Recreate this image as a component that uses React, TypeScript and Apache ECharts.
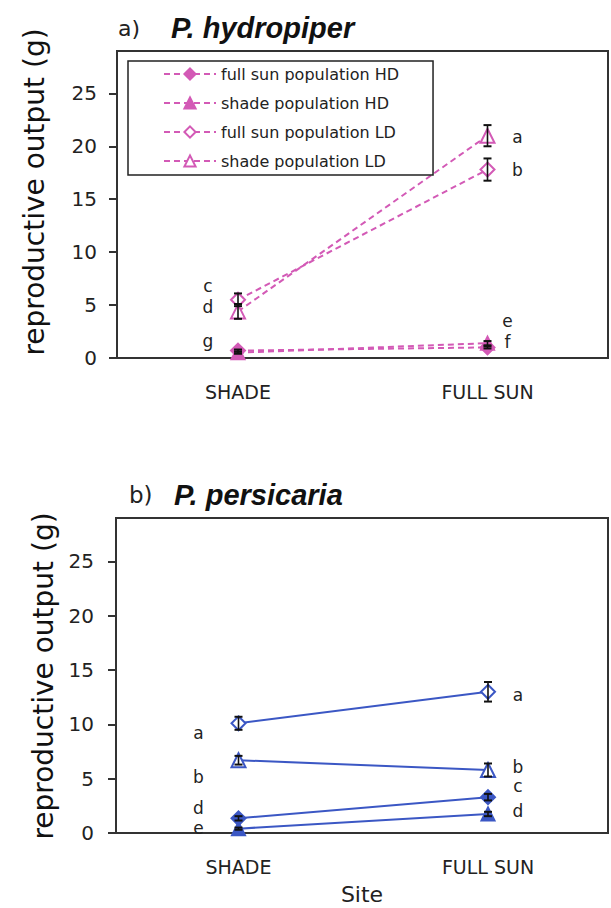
import React, { useEffect, useRef } from "react";
import * as echarts from "echarts";

// ---------- data ----------
const sites = ["SHADE", "FULL SUN"];
const seriesNames = [
  "full sun population HD",
  "shade population HD",
  "full sun population LD",
  "shade population LD",
];
const yTicks = [0, 5, 10, 15, 20, 25];

// a) P. hydropiper  — values at [SHADE site, FULL SUN site]
const hydroFullSunHD = [0.7, 1.0];
const hydroShadeHD = [0.5, 1.4];
const hydroFullSunLD = [5.5, 17.8];
const hydroShadeLD = [4.4, 21.0];
const hydroErrFullSunHD = [0.1, 0.1];
const hydroErrShadeHD = [0.1, 0.2];
const hydroErrFullSunLD = [0.6, 1.05];
const hydroErrShadeLD = [0.7, 1.0];
const hydroLetFullSunHD = ["g", "f"];
const hydroLetShadeHD = ["", "e"];
const hydroLetFullSunLD = ["c", "b"];
const hydroLetShadeLD = ["d", "a"];

// b) P. persicaria
const persFullSunHD = [1.35, 3.3];
const persShadeHD = [0.4, 1.75];
const persFullSunLD = [10.1, 13.0];
const persShadeLD = [6.7, 5.8];
const persErrFullSunHD = [0.2, 0.3];
const persErrShadeHD = [0.1, 0.2];
const persErrFullSunLD = [0.6, 0.9];
const persErrShadeLD = [0.4, 0.6];
const persLetFullSunHD = ["d", "c"];
const persLetShadeHD = ["e", "d"];
const persLetFullSunLD = ["a", "a"];
const persLetShadeLD = ["b", "b"];

// ---------- layout / style ----------
const FONT = "DejaVu Sans";
const PINK = "#d35ab6";
const BLUE = "#3b57c4";
const INK = "#222";
const FRAME = "#333";

// letter label offsets (px) for each series at [SHADE, FULL SUN]
const hydroLetOff = [
  [[-30, -10], [20, -5]],
  [[-30, 0], [20, -22]],
  [[-30, -14], [30, 0]],
  [[-30, -4], [30, 1]],
];
const persLetOff = [
  [[-40, -10], [30, -11]],
  [[-40, -1], [30, -3]],
  [[-40, 10], [30, 3]],
  [[-40, 17], [30, -3]],
];

const symbols = ["diamond", "triangle", "emptyDiamond", "emptyTriangle"];
const symbolSizes = [14, 13, 14, 14];

function buildLineSeries(
  names: string[],
  values: number[][],
  letters: string[][],
  offsets: number[][][],
  color: string,
  dashed: boolean,
  idx: number
) {
  return values.map((vals, s) => ({
    name: names[s],
    type: "line",
    xAxisIndex: idx,
    yAxisIndex: idx,
    symbol: symbols[s],
    symbolSize: symbolSizes[s],
    z: 3,
    lineStyle: { color, width: 2, type: dashed ? [6, 4] : "solid" },
    itemStyle: { color, borderColor: color, borderWidth: 2 },
    data: vals.map((v, i) => ({
      value: [i, v],
      label: {
        show: letters[s][i] !== "",
        formatter: letters[s][i],
        position: "inside",
        align: "center",
        verticalAlign: "middle",
        offset: offsets[s][i],
        fontFamily: FONT,
        fontSize: 17,
        lineHeight: 15,
        color: INK,
      },
    })),
  }));
}

function buildErrSeries(values: number[][], errs: number[][], idx: number) {
  const data: number[][] = [];
  values.forEach((vals, s) =>
    vals.forEach((v, i) => data.push([i, v, errs[s][i]]))
  );
  return {
    type: "custom",
    xAxisIndex: idx,
    yAxisIndex: idx,
    z: 6,
    silent: true,
    encode: { x: 0, y: 1 },
    data,
    renderItem: (_p: any, api: any) => {
      const x = api.value(0);
      const y = api.value(1);
      const e = api.value(2);
      const t = api.coord([x, y + e]);
      const b = api.coord([x, y - e]);
      const w = 4;
      const st = { stroke: "#111", lineWidth: 1.6 };
      return {
        type: "group",
        children: [
          { type: "line", shape: { x1: t[0], y1: t[1], x2: b[0], y2: b[1] }, style: st },
          { type: "line", shape: { x1: t[0] - w, y1: t[1], x2: t[0] + w, y2: t[1] }, style: { stroke: "#111", lineWidth: 2 } },
          { type: "line", shape: { x1: b[0] - w, y1: b[1], x2: b[0] + w, y2: b[1] }, style: { stroke: "#111", lineWidth: 2 } },
        ],
      };
    },
  };
}

function xAxisCfg(idx: number, min: number, max: number, extra: any = {}) {
  return {
    gridIndex: idx,
    type: "value",
    min,
    max,
    splitLine: { show: false },
    axisTick: { show: false },
    axisLine: { show: true, onZero: false, lineStyle: { color: FRAME, width: 2 } },
    axisLabel: {
      customValues: [0, 1],
      formatter: (v: number) => sites[Math.round(v)] ?? "",
      fontFamily: FONT,
      fontSize: 19,
      color: INK,
      margin: 24,
    },
    ...extra,
  };
}

function yAxisCfg(idx: number, margin: number) {
  return {
    gridIndex: idx,
    type: "value",
    min: 0,
    max: 29,
    splitLine: { show: false },
    axisLine: { show: true, onZero: false, lineStyle: { color: FRAME, width: 2 } },
    axisTick: {
      show: true,
      inside: false,
      length: 8,
      customValues: yTicks,
      lineStyle: { color: FRAME, width: 2 },
    },
    axisLabel: {
      customValues: yTicks,
      fontFamily: FONT,
      fontSize: 20,
      color: INK,
      margin,
    },
  };
}

export default function App() {
  const ref = useRef<HTMLDivElement>(null);
  useEffect(() => {
    if (!ref.current) return;
    const chart = echarts.init(ref.current, undefined, { renderer: "svg" });
    const topNames = seriesNames;
    const botNames = seriesNames.map((n) => "P. persicaria " + n);
    const option: any = {
      animation: false,
      backgroundColor: "#fff",
      grid: [
        { left: 117, top: 51, width: 491, height: 307, show: true, borderColor: FRAME, borderWidth: 2 },
        { left: 116, top: 518, width: 492, height: 315, show: true, borderColor: FRAME, borderWidth: 2 },
      ],
      xAxis: [
        xAxisCfg(0, -0.485, 1.483),
        xAxisCfg(1, -0.491, 1.481, {
          name: "Site",
          nameLocation: "middle",
          nameGap: 50,
          nameTextStyle: { fontFamily: FONT, fontSize: 22, color: INK },
        }),
      ],
      yAxis: [yAxisCfg(0, 20), yAxisCfg(1, 22)],
      legend: {
        data: topNames,
        orient: "vertical",
        left: 128,
        top: 61,
        itemWidth: 52,
        itemHeight: 14,
        itemGap: 13,
        padding: [5, 34, 6, 35],
        borderColor: INK,
        borderWidth: 1.5,
        selectedMode: false,
        textStyle: { fontFamily: FONT, fontSize: 16, color: INK },
      },
      graphic: [
        { type: "text", x: 118, y: 28, style: { text: "a)", font: `22px "${FONT}"`, fill: INK, textVerticalAlign: "middle" } },
        { type: "text", x: 171, y: 28, style: { text: "P. hydropiper", font: `italic bold 29px "Liberation Sans"`, fill: "#111", textVerticalAlign: "middle" } },
        { type: "text", x: 129, y: 495, style: { text: "b)", font: `23px "${FONT}"`, fill: INK, textVerticalAlign: "middle" } },
        { type: "text", x: 174, y: 495, style: { text: "P. persicaria", font: `italic bold 29px "Liberation Sans"`, fill: "#111", textVerticalAlign: "middle" } },
        { type: "text", x: 34, y: 192, rotation: Math.PI / 2, style: { text: "reproductive output (g)", font: `28px "${FONT}"`, fill: "#111", textAlign: "center", textVerticalAlign: "middle" } },
        { type: "text", x: 43, y: 676, rotation: Math.PI / 2, style: { text: "reproductive output (g)", font: `28px "${FONT}"`, fill: "#111", textAlign: "center", textVerticalAlign: "middle" } },
      ],
      series: [
        ...buildLineSeries(
          topNames,
          [hydroFullSunHD, hydroShadeHD, hydroFullSunLD, hydroShadeLD],
          [hydroLetFullSunHD, hydroLetShadeHD, hydroLetFullSunLD, hydroLetShadeLD],
          hydroLetOff,
          PINK,
          true,
          0
        ),
        buildErrSeries(
          [hydroFullSunHD, hydroShadeHD, hydroFullSunLD, hydroShadeLD],
          [hydroErrFullSunHD, hydroErrShadeHD, hydroErrFullSunLD, hydroErrShadeLD],
          0
        ),
        ...buildLineSeries(
          botNames,
          [persFullSunHD, persShadeHD, persFullSunLD, persShadeLD],
          [persLetFullSunHD, persLetShadeHD, persLetFullSunLD, persLetShadeLD],
          persLetOff,
          BLUE,
          false,
          1
        ),
        buildErrSeries(
          [persFullSunHD, persShadeHD, persFullSunLD, persShadeLD],
          [persErrFullSunHD, persErrShadeHD, persErrFullSunLD, persErrShadeLD],
          1
        ),
      ],
    };
    chart.setOption(option);
    return () => chart.dispose();
  }, []);
  return (
    <div
      ref={ref}
      style={{ position: "fixed", left: 0, top: 0, width: 611, height: 908, background: "#fff" }}
    />
  );
}
